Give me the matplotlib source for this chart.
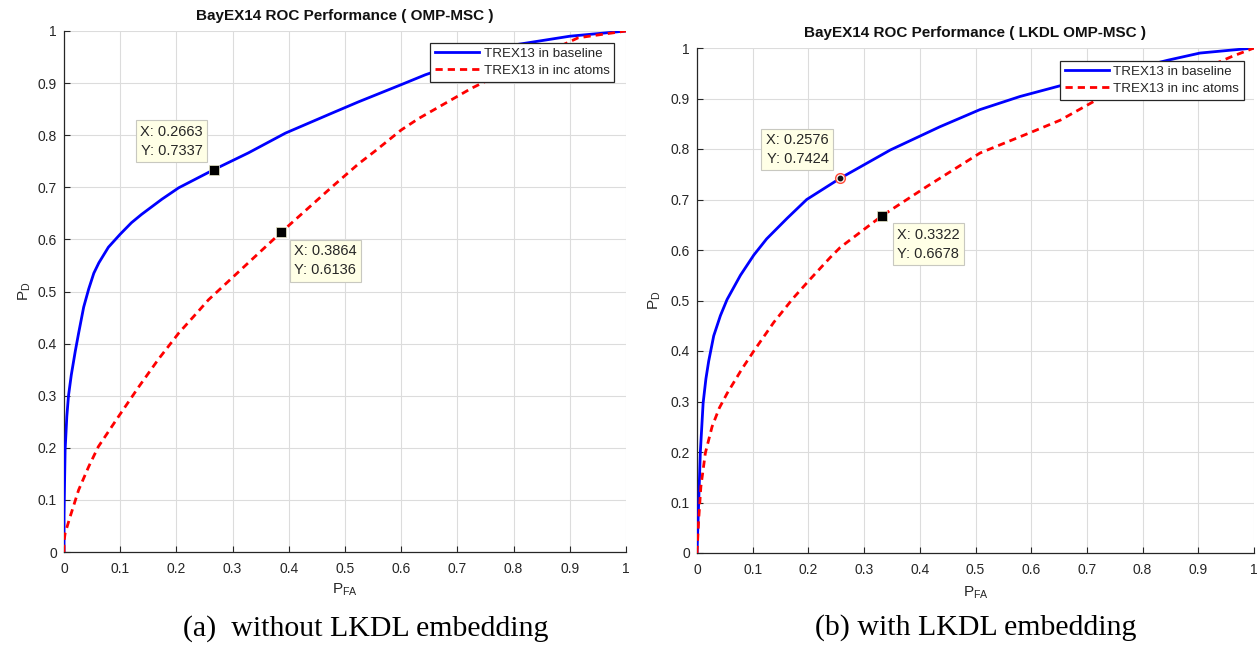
import matplotlib
matplotlib.use("Agg")
import matplotlib.pyplot as plt

plt.rcParams['font.family'] = ['Liberation Sans', 'DejaVu Sans']
plt.rcParams['mathtext.fontset'] = 'custom'
plt.rcParams['mathtext.rm'] = 'Liberation Sans'
plt.rcParams['mathtext.it'] = 'Liberation Sans:italic'
plt.rcParams['mathtext.default'] = 'regular'

# ---------------- data ----------------
titles = ["BayEX14 ROC Performance ( OMP-MSC )", "BayEX14 ROC Performance ( LKDL OMP-MSC )"]
captions = ["(a)  without LKDL embedding", "(b) with LKDL embedding"]
series_labels = ["TREX13 in baseline", "TREX13 in inc atoms"]
ticks = [0, 0.1, 0.2, 0.3, 0.4, 0.5, 0.6, 0.7, 0.8, 0.9, 1]
tick_labels = ["0", "0.1", "0.2", "0.3", "0.4", "0.5", "0.6", "0.7", "0.8", "0.9", "1"]

# (a) without LKDL
a_base_pfa = [0, 0.0, 0.002, 0.005, 0.008, 0.013, 0.02, 0.026, 0.035, 0.044, 0.053, 0.062, 0.079,
              0.1, 0.12, 0.138, 0.174, 0.204, 0.2663, 0.328, 0.394, 0.476, 0.524, 0.6, 0.643,
              0.7, 0.8, 0.9, 1.0]
a_base_pd = [0, 0.07, 0.196, 0.26, 0.30, 0.34, 0.385, 0.42, 0.47, 0.505, 0.535, 0.555, 0.585,
             0.61, 0.632, 0.648, 0.677, 0.699, 0.7337, 0.766, 0.804, 0.842, 0.864, 0.897, 0.916,
             0.937, 0.973, 0.99, 1.0]
a_inc_pfa = [0, 0.0, 0.002, 0.011, 0.026, 0.044, 0.061, 0.097, 0.133, 0.168, 0.204, 0.239,
             0.257, 0.3864, 0.476, 0.524, 0.554, 0.6, 0.631, 0.725, 0.8, 0.915, 1.0]
a_inc_pd = [0, 0.02, 0.036, 0.068, 0.119, 0.164, 0.202, 0.26, 0.317, 0.37, 0.42, 0.462,
            0.484, 0.6136, 0.70, 0.745, 0.77, 0.81, 0.832, 0.89, 0.93, 0.987, 1.0]

# (b) with LKDL
b_base_pfa = [0, 0.003, 0.006, 0.011, 0.016, 0.021, 0.03, 0.042, 0.054, 0.078, 0.102, 0.125, 0.162,
              0.197, 0.2576, 0.347, 0.436, 0.508, 0.58, 0.658, 0.75, 0.846, 0.903, 1.0]
b_base_pd = [0, 0.1, 0.2, 0.297, 0.345, 0.38, 0.43, 0.47, 0.502, 0.55, 0.59, 0.622, 0.663,
             0.70, 0.7424, 0.798, 0.844, 0.878, 0.904, 0.927, 0.95, 0.976, 0.99, 1.0]
b_inc_pfa = [0, 0.003, 0.007, 0.015, 0.027, 0.04, 0.054, 0.081, 0.102, 0.138, 0.173, 0.203, 0.239,
             0.257, 0.3322, 0.413, 0.508, 0.604, 0.652, 0.717, 0.8, 0.903, 0.96, 1.0]
b_inc_pd = [0, 0.066, 0.132, 0.198, 0.25, 0.287, 0.316, 0.365, 0.4, 0.457, 0.505, 0.542, 0.585,
            0.605, 0.6678, 0.726, 0.792, 0.835, 0.857, 0.897, 0.93, 0.956, 0.983, 1.0]

# data tips: (x, y)
a_tips = [(0.2663, 0.7337), (0.3864, 0.6136)]
b_tips = [(0.2576, 0.7424), (0.3322, 0.6678)]

# ---------------- figure ----------------
W, H = 1257, 646
fig = plt.figure(figsize=(W / 100, H / 100), dpi=100)

def px_axes(l, r, t, b):
    return fig.add_axes([l / W, 1 - b / H, (r - l) / W, (b - t) / H])

ax1 = px_axes(64, 626, 31, 552)
ax2 = px_axes(697, 1254, 48, 553)

TXT = '#262626'

def style(ax, title, tpad):
    ax.set_xlim(0, 1)
    ax.set_ylim(0, 1)
    ax.set_xticks(ticks)
    ax.set_xticklabels(tick_labels)
    ax.set_yticks(ticks)
    ax.set_yticklabels(tick_labels)
    ax.grid(True, color='#dcdcdc', linewidth=0.8)
    ax.set_axisbelow(True)
    for s in ['top', 'right']:
        ax.spines[s].set_visible(False)
    for s in ['left', 'bottom']:
        ax.spines[s].set_color(TXT)
        ax.spines[s].set_linewidth(0.9)
    ax.tick_params(axis='both', direction='in', length=4, width=0.8, color=TXT,
                   labelcolor=TXT, labelsize=10)
    ax.tick_params(axis='x', pad=7)
    ax.tick_params(axis='y', pad=5)
    ax.set_title(title, fontsize=11, fontweight='bold', color='#111111', pad=tpad)

def tipbox(ax, x, y, dx, dy, ha, va):
    ax.annotate("X: %.4f\nY: %.4f" % (x, y), xy=(x, y), xytext=(dx, dy),
                textcoords='offset pixels', ha=ha, va=va, fontsize=10.5, color=TXT,
                linespacing=1.45, zorder=6,
                bbox=dict(boxstyle='square,pad=0.3', fc='#ffffe6', ec='#c8c8c0', lw=0.8))

def draw(ax, bx, by, ix, iy):
    ax.plot(bx, by, color='#0000ff', lw=2.0, label=series_labels[0], zorder=3)
    ax.plot(ix, iy, color='#ff0000', lw=2.0, ls=(0, (2.6, 1.8)), label=series_labels[1], zorder=3)

# ---- (a)
style(ax1, titles[0], 8)
draw(ax1, a_base_pfa, a_base_pd, a_inc_pfa, a_inc_pd)
ax1.plot([a_tips[0][0]], [a_tips[0][1]], 's', ms=7.5, color='black', mec='#e8e8c8', mew=0.5, zorder=5)
ax1.plot([a_tips[1][0]], [a_tips[1][1]], 's', ms=7.5, color='black', mec='#e8e8c8', mew=0.5, zorder=5)
tipbox(ax1, a_tips[0][0], a_tips[0][1], -11, 12, 'right', 'bottom')
tipbox(ax1, a_tips[1][0], a_tips[1][1], 13, -12, 'left', 'top')

# ---- (b)
style(ax2, titles[1], 8)
draw(ax2, b_base_pfa, b_base_pd, b_inc_pfa, b_inc_pd)
ax2.plot([b_tips[0][0]], [b_tips[0][1]], 'o', ms=7, mfc='#fff4f0', mec='#ff4a3a', mew=1.0, zorder=5)
ax2.plot([b_tips[0][0]], [b_tips[0][1]], 'o', ms=3.2, color='#111111', zorder=6)
ax2.plot([b_tips[1][0]], [b_tips[1][1]], 's', ms=7.5, color='black', mec='#e8e8c8', mew=0.5, zorder=5)
tipbox(ax2, b_tips[0][0], b_tips[0][1], -12, 12, 'right', 'bottom')
tipbox(ax2, b_tips[1][0], b_tips[1][1], 15, -12, 'left', 'top')

for ax, anchor in [(ax1, (0.979, 0.977)), (ax2, (0.982, 0.974))]:
    leg = ax.legend(loc='upper right', bbox_to_anchor=anchor, borderaxespad=0,
                    fontsize=9.6, handlelength=3.3, handletextpad=0.35, borderpad=0.35,
                    labelspacing=0.35, fancybox=False, framealpha=1, edgecolor=TXT)
    leg.get_frame().set_linewidth(0.9)
    leg.set_zorder(7)
    for t in leg.get_texts():
        t.set_color(TXT)

# axis labels
for ax, ylx, xly in [(ax1, -0.055, -0.056), (ax2, -0.061, -0.062)]:
    ax.set_xlabel('$P_{FA}$', fontsize=11, color=TXT)
    ax.set_ylabel('$P_{D}$', fontsize=11, color=TXT)
    ax.xaxis.set_label_coords(0.5, xly)
    ax.yaxis.set_label_coords(ylx, 0.5)

# captions
fig.text(365.5 / W, 1 - 629 / H, captions[0], ha='center', va='center',
         fontsize=21.5, family='Liberation Serif', color='black')
fig.text(976 / W, 1 - 628 / H, captions[1], ha='center', va='center',
         fontsize=21.5, family='Liberation Serif', color='black')

fig.savefig('out.png', dpi=100)
